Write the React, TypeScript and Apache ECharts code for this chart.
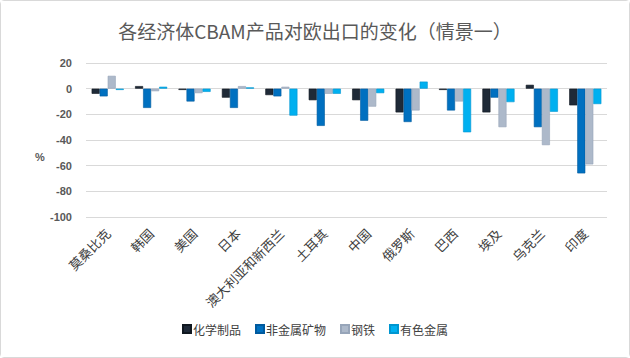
import React, { useEffect, useRef } from "react";
import * as echarts from "echarts";

const categories = ["莫桑比克", "韩国", "美国", "日本", "澳大利亚和新西兰", "土耳其", "中国", "俄罗斯", "巴西", "埃及", "乌克兰", "印度"];
const seriesNames = ["化学制品", "非金属矿物", "钢铁", "有色金属"];
const chemicals = [-4, 2, -1, -7, -5, -9, -9, -18.5, -1, -18.5, 3, -13];
const nonMetallic = [-6, -15, -10, -15, -6, -29, -25, -26, -17, -7, -30, -66];
const steel = [10, -2, -3.5, 2, 1.5, -4, -14, -17, -10, -30, -44, -59];
const nonFerrous = [-1, 1.5, -2.5, 1, -21, -4, -3.5, 5.5, -34, -10.5, -18, -12];
const colors = ["#1f2a38", "#0070c0", "#adb9ca", "#00b0f0"];
const borderColors = ["#101820", "#005a9e", "#97a5b9", "#0096d0"];

export default function App() {
  const ref = useRef<HTMLDivElement>(null);
  useEffect(() => {
    document.body.style.margin = "0";
    const chart = echarts.init(ref.current!, null, { renderer: "svg" });
    const data = [chemicals, nonMetallic, steel, nonFerrous];
    chart.setOption({
      animation: false,
      backgroundColor: "#ffffff",
      title: {
        text: "各经济体CBAM产品对欧出口的变化（情景一）",
        left: "center",
        top: 15,
        textStyle: { fontFamily: "Noto Sans CJK SC", fontSize: 19, fontWeight: "normal", color: "#595959" },
      },
      legend: {
        bottom: 17,
        left: "center",
        itemWidth: 8,
        itemHeight: 8,
        itemGap: 14,
        icon: "rect",
        textStyle: { fontFamily: "Noto Sans CJK SC", fontSize: 12, color: "#404040", padding: [0, 0, 0, -3] },
        data: seriesNames,
      },
      grid: { left: 85, right: 22, top: 62, bottom: 140, containLabel: false },
      xAxis: {
        type: "category",
        data: categories,
        axisLine: { show: false },
        axisTick: { show: false },
        axisLabel: {
          rotate: 45,
          interval: 0,
          margin: 14,
          fontFamily: "Noto Sans CJK SC",
          fontSize: 13,
          color: "#404040",
        },
      },
      yAxis: {
        type: "value",
        min: -100,
        max: 20,
        interval: 20,
        axisLine: { show: false },
        axisTick: { show: false },
        splitLine: { lineStyle: { color: "#d9d9d9", width: 1 } },
        axisLabel: { fontFamily: "Liberation Sans", fontSize: 11, fontWeight: "bold", color: "#595959", margin: 14 },
      },
      graphic: [
        {
          type: "text",
          left: 34,
          top: 150,
          style: { text: "%", fontFamily: "Liberation Sans", fontSize: 11, fontWeight: "bold", fill: "#595959" },
        },
      ],
      series: seriesNames.map((name, i) => ({
        name,
        type: "bar",
        data: data[i],
        barGap: "0%",
        barCategoryGap: "26%",
        itemStyle: { color: colors[i], borderColor: borderColors[i], borderWidth: 0.6 },
      })),
    });
    return () => chart.dispose();
  }, []);
  return (
    <div style={{ width: 628, height: 356, border: "1px solid #d9d9d9", borderRadius: 4, boxSizing: "content-box" }}>
      <div ref={ref} style={{ width: 628, height: 356 }} />
    </div>
  );
}
